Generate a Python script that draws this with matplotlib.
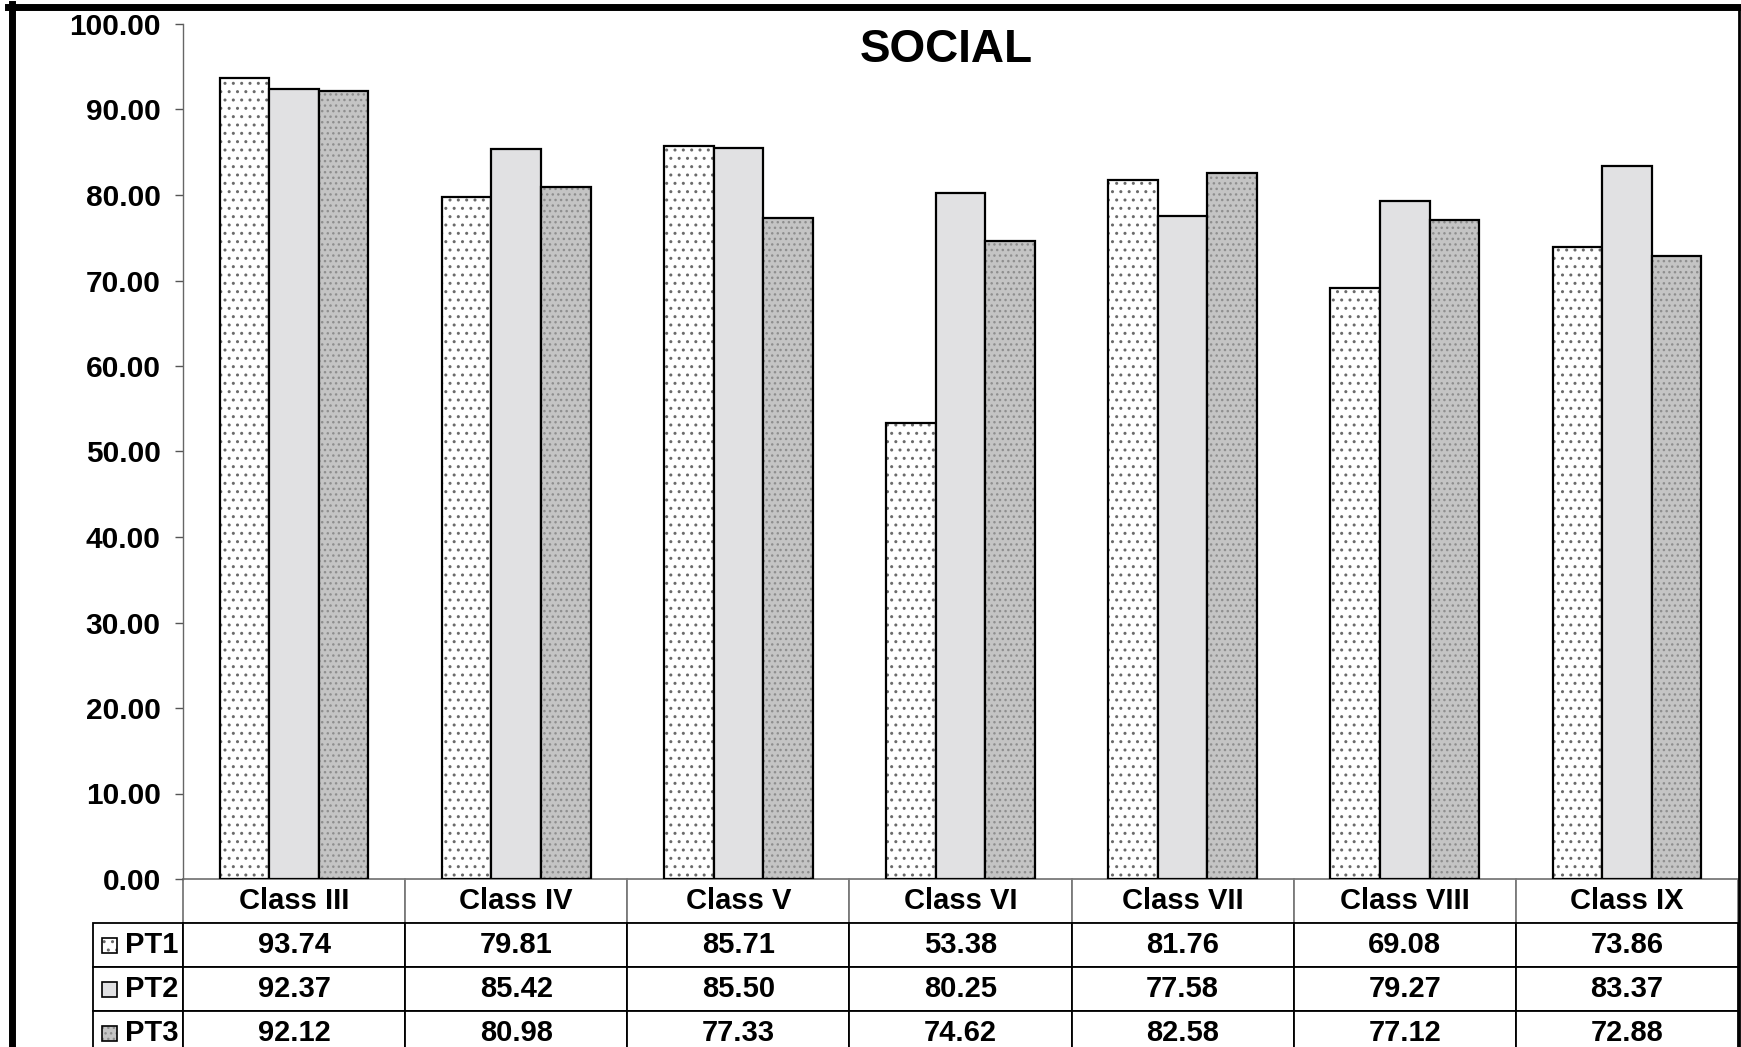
import matplotlib
matplotlib.use("Agg")
import matplotlib.pyplot as plt
from matplotlib.lines import Line2D
from matplotlib.patches import Rectangle
import numpy as np

plt.rcParams['font.family'] = ['Liberation Sans', 'DejaVu Sans']
plt.rcParams['font.weight'] = 'bold'
plt.rcParams['hatch.linewidth'] = 1.0

classes = ['Class III', 'Class IV', 'Class V', 'Class VI', 'Class VII', 'Class VIII', 'Class IX']
series = ['PT1', 'PT2', 'PT3']
pt1 = [93.74, 79.81, 85.71, 53.38, 81.76, 69.08, 73.86]
pt2 = [92.37, 85.42, 85.50, 80.25, 77.58, 79.27, 83.37]
pt3 = [92.12, 80.98, 77.33, 74.62, 82.58, 77.12, 72.88]
yticks = [0, 10, 20, 30, 40, 50, 60, 70, 80, 90, 100]

# look of each series (face, hatch, hatch colour)
styles = [
    ('white', '..', '#6a6a6a'),
    ('#e1e1e3', '', '#e1e1e3'),
    ('#c4c4c4', '...', '#8e8e8e'),
]

W, H = 1741, 1047
fig = plt.figure(figsize=(W / 100, H / 100), dpi=100)
ax = fig.add_axes([183 / W, 1 - 879 / H, (1738 - 183) / W, (879 - 24) / H])

x = np.arange(len(classes))
bw = 0.223
for i, vals in enumerate([pt1, pt2, pt3]):
    face, hatch, hcol = styles[i]
    pos = x + (i - 1) * bw
    ax.bar(pos, vals, bw, color=face, hatch=hatch, edgecolor=hcol, linewidth=0)
    ax.bar(pos, vals, bw, fill=False, edgecolor='black', linewidth=1.6)

ax.set_xlim(-0.5, len(classes) - 0.5)
ax.set_ylim(0, 100)
ax.set_yticks(yticks)
ax.set_yticklabels([f'{v:.2f}' for v in yticks], fontsize=21.5, fontweight='bold')
ax.tick_params(axis='y', direction='out', length=6, width=1, color='#555555', pad=10)
ax.set_xticks([])
for s in ['top', 'right', 'bottom']:
    ax.spines[s].set_visible(False)
ax.spines['left'].set_color('#666666')
ax.spines['left'].set_linewidth(1)

fig.text(946 / W, 1 - 50 / H, 'SOCIAL', fontsize=33, fontweight='bold', ha='center', va='center')

# data table under the axis
cell_text = [[f'{v:.2f}' for v in row] for row in [pt1, pt2, pt3]]
axw = 1738 - 183
axh = 879 - 24
rl_w = 90 / axw
tab_h = 176 / axh
tbl = ax.table(cellText=cell_text, rowLabels=series, colLabels=classes,
               colWidths=[1 / len(classes)] * len(classes),
               cellLoc='center', rowLoc='left',
               bbox=[0, -tab_h, 1, tab_h])
tbl._autoColumns = []
tbl.auto_set_font_size(False)
tbl.set_fontsize(21)
for (r, c), cell in tbl.get_celld().items():
    cell.set_text_props(fontweight='bold')
    cell.set_linewidth(1.3)
    if r == 0:
        cell.set_edgecolor('#7a7a7a')
    if c == -1:
        cell.set_width(rl_w)
        cell.PAD = 0.36

# legend keys in the row label cells
for i in range(3):
    face, hatch, hcol = styles[i]
    yc = -(44 + 44 * i + 22) / axh
    kx = (102 - 183) / axw
    ks = 15
    ax.add_patch(Rectangle((kx, yc - ks / 2 / axh), ks / axw, ks / axh, transform=ax.transAxes,
                           facecolor=face, hatch=hatch, edgecolor=hcol, linewidth=0, clip_on=False))
    ax.add_patch(Rectangle((kx, yc - ks / 2 / axh), ks / axw, ks / axh, transform=ax.transAxes,
                           fill=False, edgecolor='black', linewidth=1.2, clip_on=False))

# outer frame
fig.add_artist(Line2D([11.5 / W, 11.5 / W], [0, 1 - 4 / H], transform=fig.transFigure, color='black', lw=5))
fig.add_artist(Line2D([8 / W, 1740 / W], [1 - 7 / H, 1 - 7 / H], transform=fig.transFigure, color='black', lw=5))
fig.add_artist(Line2D([1738.5 / W, 1738.5 / W], [0, 1 - 7 / H], transform=fig.transFigure, color='black', lw=2))

fig.savefig('out.png', dpi=100)
